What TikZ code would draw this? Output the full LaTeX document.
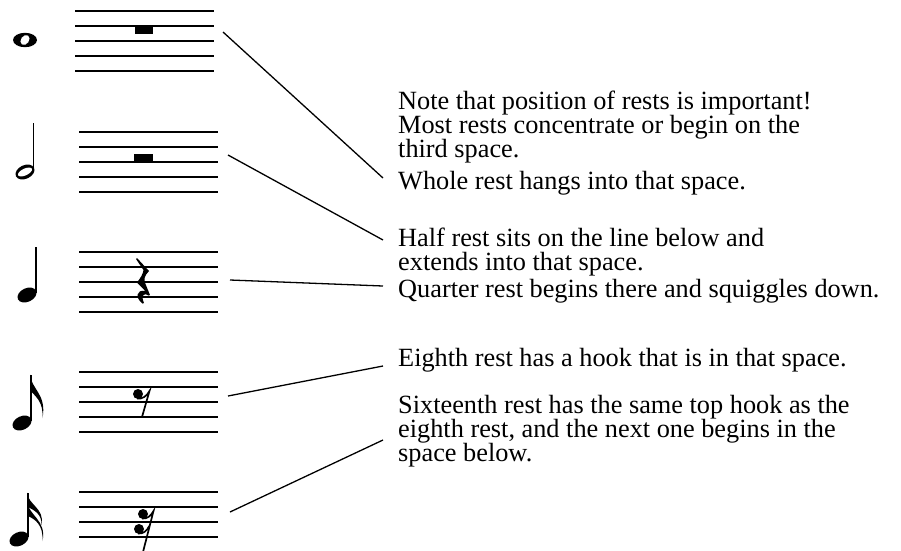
\documentclass[tikz,border=0pt]{standalone}
\usepackage{fontspec}
\setmainfont{Liberation Serif}
\begin{document}
\begin{tikzpicture}[x=1pt,y=-1pt,
  staffline/.style={line width=2pt},
  leader/.style={line width=1.3pt},
  stem/.style={line width=1.4pt},
  staffbox/.style={minimum width=140pt,minimum height=62pt,inner sep=0pt},
  caption/.style={anchor=base west,inner sep=0pt,align=left,
    font=\fontsize{26.3}{24}\selectfont}]
\useasboundingbox (0,0) rectangle (901,550);
\clip (0,0) rectangle (901,550);

% five-line staves
\foreach \x/\top in {75/11, 79/131.5, 79/251.5, 79/371.5, 79/491.5}{
  \foreach \k in {0,...,4}
    \draw[staffline] (\x,{\top+15*\k}) -- ({\x+139},{\top+15*\k});
}
\node[staffbox] (staff1) at (144.5,41) {};
\node[staffbox] (staff2) at (148.5,161.5) {};
\node[staffbox] (staff3) at (148.5,281.5) {};
\node[staffbox] (staff4) at (148.5,401.5) {};
\node[staffbox] (staff5) at (148.5,521.5) {};

% whole note
\begin{scope}[shift={(25,40)}]
  \fill (0,0) ellipse (12 and 7.2);
  \fill[white,rotate=-35] (0,0) ellipse (4 and 5.4);
\end{scope}
% half note
\begin{scope}[shift={(25,172)}]
  \fill[rotate=25] (0,0) ellipse (10 and 6.8);
  \fill[white,rotate=25] (0,0) ellipse (7.6 and 3.4);
\end{scope}
\draw[stem] (33.5,123) -- (33.5,170);
% quarter note
\fill[rotate around={25:(27,295)}] (27,295) ellipse (10 and 6.8);
\draw[stem] (35.8,247) -- (35.8,293);
% eighth note
\fill[rotate around={25:(22,423)}] (22,423) ellipse (10 and 6.8);
\draw[stem] (30.8,375) -- (30.8,421);
\fill (30.1,374.5) .. controls (31,389) and (47,394) .. (42.5,418)
      .. controls (43.5,402) and (36,397) .. (30.8,391) -- cycle;
% sixteenth note
\fill[rotate around={25:(19,539)}] (19,539) ellipse (10 and 6.8);
\draw[stem] (27.8,493) -- (27.8,537);
\fill (27.1,492.5) .. controls (28,505) and (45,508) .. (41.5,525)
      .. controls (42,514) and (34,510) .. (27.8,507) -- cycle;
\fill (27.1,501.5) .. controls (28,515) and (47,520) .. (42.5,541)
      .. controls (43.5,525) and (35,519) .. (27.8,516) -- cycle;

% whole rest hangs from the fourth line
\fill (135,26) rectangle (153,34);
% half rest sits on the middle line
\fill (134,153.5) rectangle (153,161.5);
% quarter rest
\begin{scope}[shift={(135,258)}]
  \fill (2,0) -- (14,13) .. controls (9,18) and (8.5,22) .. (10.5,26)
        -- (15,37) -- (13.5,37.5) .. controls (8,34) and (6,38.5) .. (9,45)
        -- (7.5,45.5) .. controls (0,40) and (1,31) .. (10.5,33)
        -- (2,24.5) .. controls (5.5,20) and (8,16) .. (8.5,12) -- (1,1) -- cycle;
\end{scope}
% eighth rest
\fill (138,394) circle (5);
\draw[line width=1.7pt] (137,398.5) .. controls (142,399.5) and (147,396) .. (149.5,391) -- (142,417);
% sixteenth rest
\fill (143,514) circle (5);
\fill (139,529) circle (5);
\draw[line width=1.7pt] (142,518.5) .. controls (147,519) and (151,516) .. (153.5,511) -- (143,552);
\draw[line width=1.7pt] (138,533.5) .. controls (143,534) and (147,531) .. (149.2,526);

% explanations (anchored on the baseline of the last line)
\node[caption] (t0) at (398,157) {Note that position of rests is important!\\Most rests concentrate or begin on the\\third space.};
\node[caption] (t1) at (398,189) {Whole rest hangs into that space.};
\node[caption] (t2) at (398,270) {Half rest sits on the line below and\\extends into that space.};
\node[caption] (t3) at (398,297) {Quarter rest begins there and squiggles down.};
\node[caption] (t4) at (398,366) {Eighth rest has a hook that is in that space.};
\node[caption] (t5) at (398,461) {Sixteenth rest has the same top hook as the\\eighth rest, and the next one begins in the\\space below.};

% leader lines
\coordinate (a1) at (223,32);  \coordinate (b1) at (383,178);
\coordinate (a2) at (228,155); \coordinate (b2) at (383,240);
\coordinate (a3) at (230,280); \coordinate (b3) at (383,286);
\coordinate (a4) at (228,396); \coordinate (b4) at (383,366);
\coordinate (a5) at (230,512); \coordinate (b5) at (383,440);
\foreach \i in {1,...,5}
  \draw[leader] (a\i) -- (b\i);
\end{tikzpicture}
\end{document}
